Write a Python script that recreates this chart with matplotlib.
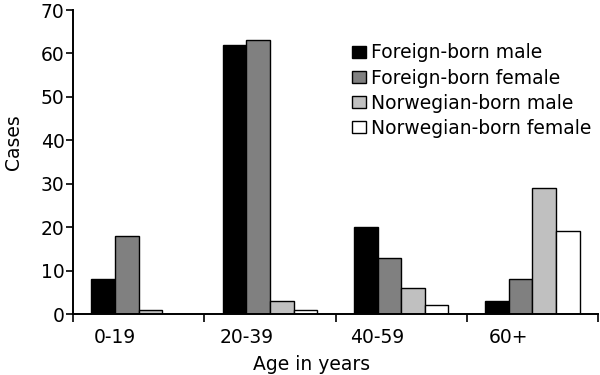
import numpy as np
import matplotlib
matplotlib.use("Agg")
import matplotlib.pyplot as plt

# age groups and case counts
age_groups = ["0-19", "20-39", "40-59", "60+"]
foreign_male = [8, 62, 20, 3]
foreign_female = [18, 63, 13, 8]
norwegian_male = [1, 3, 6, 29]
norwegian_female = [0, 1, 2, 19]

series = [
    ("Foreign-born male", foreign_male, "#000000"),
    ("Foreign-born female", foreign_female, "#808080"),
    ("Norwegian-born male", norwegian_male, "#c0c0c0"),
    ("Norwegian-born female", norwegian_female, "#ffffff"),
]

plt.rcParams["font.family"] = ["Verdana", "DejaVu Sans"]
fs = 13.5

fig = plt.figure(figsize=(6, 3.75), dpi=100)
ax = fig.add_axes([73 / 600, 61 / 375, 525 / 600, 304 / 375])

x = np.arange(len(age_groups))
bw = 0.18  # bar width in category units
for i, (name, vals, col) in enumerate(series):
    ax.bar(x + (i - 1.5) * bw, vals, width=bw, color=col, edgecolor="black",
           linewidth=1.0, label=name)

ax.set_xlim(-0.5, len(age_groups) - 0.5)
ax.set_ylim(0, 70)
ax.set_yticks(range(0, 71, 10))

# ticks on the category boundaries; labels sit a bit left of the centres
ax.set_xticks(np.arange(-0.5, len(age_groups), 1.0))
ax.set_xticklabels([])
ax.set_xticks(x - 0.18, minor=True)
ax.set_xticklabels(age_groups, minor=True, fontsize=fs)
ax.tick_params(axis="x", which="minor", length=0, pad=10)
ax.tick_params(axis="x", which="major", direction="out", length=6, width=1.2)
ax.tick_params(axis="y", direction="out", length=5, width=1.2, labelsize=fs, pad=1)

for s in ["top", "right"]:
    ax.spines[s].set_visible(False)
for s in ["left", "bottom"]:
    ax.spines[s].set_linewidth(1.4)

ax.set_ylabel("Cases", fontsize=fs)
ax.yaxis.set_label_coords(-0.095, 0.566)
ax.set_xlabel("Age in years", fontsize=fs)
ax.xaxis.set_label_coords(0.454, -0.135)

leg = ax.legend(loc="upper left", bbox_to_anchor=(0.531, 0.89), frameon=False,
                fontsize=fs, handlelength=0.75, handleheight=0.6,
                handletextpad=0.25, labelspacing=0.33, borderaxespad=0,
                borderpad=0)

fig.savefig("out.png", dpi=100)
